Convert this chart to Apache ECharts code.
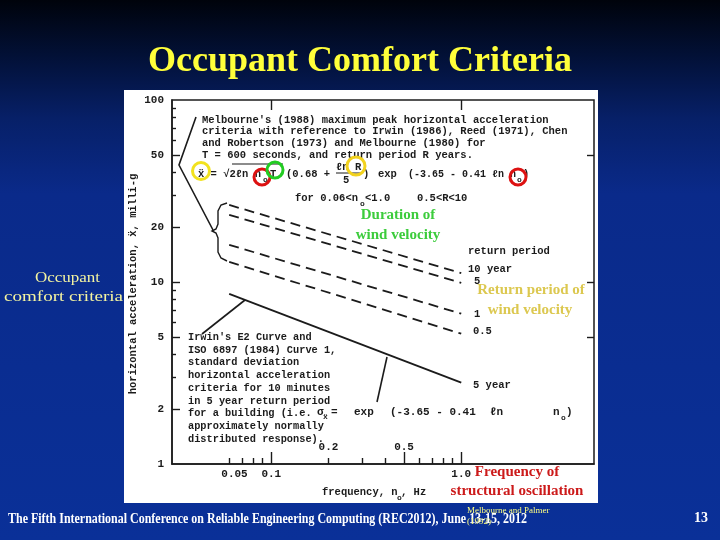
<!DOCTYPE html>
<html><head><meta charset="utf-8">
<script src="https://cdn.jsdelivr.net/npm/echarts@6/dist/echarts.min.js"></script>
<style>html,body{margin:0;padding:0;background:#0a2a8c}#c{width:720px;height:540px}</style>
</head><body><div id="c"></div>
<script>
// ---- data ----
const frequency = [0.06, 1.0];            // n0, Hz (domain 0.06 < n0 < 1.0)
const return10 = [26.5, 11.2];            // milli-g, R = 10 year
const return5 = [23.4, 9.9];              // R = 5
const return1 = [16.0, 6.7];              // R = 1
const return05 = [12.9, 5.2];             // R = 0.5
const irwinE2 = [8.6, 2.8];               // Irwin E2 / ISO 6897 curve 1
const yTickValues = [1, 2, 5, 10, 20, 50, 100];
const yTickLabels = ['1', '2', '5', '10', '20', '50', '100'];
const yMajorTicks = [2, 5, 10, 20, 50];
const yMinorTicks = [3, 4, 6, 7, 8, 9, 30, 40, 60, 70, 80, 90];
const xTickValues = [0.064, 0.1, 1];
const xTickLabels = ['0.05', '0.1', '1.0'];
const xInnerTickValues = [0.2, 0.5];
const xInnerTickLabels = ['0.2', '0.5'];
const xMajorTicks = [0.1, 0.5, 1];
const xMinorTicks = [0.06, 0.07, 0.08, 0.09, 0.2, 0.3, 0.4, 0.6, 0.7, 0.8, 0.9];

function pick(values, labels) {
  return function (v) {
    for (let i = 0; i < values.length; i++) {
      if (Math.abs(v - values[i]) / values[i] < 1e-3) return labels[i];
    }
    return '';
  };
}
function pairs(xs, ys) { return xs.map((x, i) => [x, ys[i]]); }

const mctx = document.createElement('canvas').getContext('2d');
function measure(text, font) { mctx.font = font; return mctx.measureText(text).width; }

const INK = '#1b1b1b';
const MONO = '"Liberation Mono", "DejaVu Sans Mono", monospace';
const SERIF = '"Liberation Serif", "DejaVu Serif", serif';

function T(text, x, y, font, fill, align, extra) {
  const st = Object.assign({
    text: text, x: 0, y: 0, font: font, fill: fill,
    align: align || 'left', textAlign: align || 'left',
    verticalAlign: 'middle', textVerticalAlign: 'middle'
  }, extra || {});
  return { type: 'text', x: x, y: y, z: 20, silent: true, style: st };
}
function FT(text, x, y, font, fill, width, align) {
  const w = measure(text, font);
  const el = T(text, x, y, font, fill, align || 'left');
  el.scaleX = width / w;
  return el;
}
function M(text, x, y, size, align) {
  return T(text, x, y, 'bold ' + (size || 10.5) + 'px ' + MONO, INK, align);
}
function ring(cx, cy, r, color) {
  return { type: 'circle', z: 25, silent: true, shape: { cx: cx, cy: cy, r: r },
    style: { fill: 'none', stroke: color, lineWidth: 3 } };
}
function pline(points, w) {
  return { type: 'polyline', z: 15, silent: true, shape: { points: points },
    style: { fill: 'none', stroke: INK, lineWidth: w || 1.6 } };
}

const bg = {
  type: 'rect', z: -20, silent: true, shape: { x: 0, y: 0, width: 720, height: 540 },
  style: { fill: new echarts.graphic.LinearGradient(0, 0, 0, 1, [
    { offset: 0, color: '#00030b' }, { offset: 0.1, color: '#021035' },
    { offset: 0.22, color: '#072068' }, { offset: 0.36, color: '#0a2a8a' },
    { offset: 1, color: '#0a3098' }]) }
};
const paper = { type: 'rect', z: -15, silent: true, shape: { x: 124, y: 90, width: 474, height: 413 }, style: { fill: '#ffffff' } };

const yName = T('horizontal acceleration, ẍ, milli-g', 133, 284, 'bold 10.5px ' + MONO, INK, 'center');
yName.rotation = Math.PI / 2;

const graphics = [bg, paper,
  // slide texts
  T('Occupant Comfort Criteria', 360, 62, 'bold 36px ' + SERIF, '#ffff3a', 'center'),
  FT('Occupant', 35, 278, '14px ' + SERIF, '#f4f4a0', 65),
  FT('comfort criteria', 4, 297, '14px ' + SERIF, '#f4f4a0', 119),
  FT('The Fifth International Conference on Reliable Engineering Computing (REC2012), June 13-15, 2012', 8, 519, 'bold 15px ' + SERIF, '#ffffff', 519),
  T('13', 701, 518, 'bold 14px ' + SERIF, '#ffffff', 'center'),
  T('Melbourne and Palmer', 467, 511, '9px ' + SERIF, '#ffff80'),
  T('(1992)', 467, 522, '9px ' + SERIF, '#ffff80'),
  // scanned figure texts
  yName,
  M("Melbourne's (1988) maximum peak horizontal acceleration", 202, 120),
  M('criteria with reference to Irwin (1986), Reed (1971), Chen', 202, 131.5),
  M('and Robertson (1973) and Melbourne (1980) for', 202, 143),
  M('T = 600 seconds, and return period R years.', 202, 155),
  M('ẍ = √2ℓn n', 198, 174),
  M('o', 263, 180, 8),
  M('T', 270, 174),
  M('(0.68 +', 286, 174),
  M('ℓn R', 336, 167),
  M('5', 343, 180),
  M(')', 363, 174),
  M('exp', 378, 174),
  M('(-3.65 - 0.41 ℓn n', 408, 174, 10),
  M('o', 517, 180, 8),
  M(')', 523, 174),
  { type: 'line', z: 15, silent: true, shape: { x1: 232, y1: 164, x2: 283, y2: 164 }, style: { stroke: INK, lineWidth: 1.2 } },
  { type: 'line', z: 15, silent: true, shape: { x1: 336, y1: 173, x2: 362, y2: 173 }, style: { stroke: INK, lineWidth: 1 } },
  M('for 0.06<n', 295, 198),
  M('o', 360, 204, 8),
  M('<1.0', 365, 198),
  M('0.5<R<10', 417, 198),
  M('return period', 468, 251),
  M('10 year', 468, 269),
  M('5', 474, 281),
  M('1', 474, 314),
  M('0.5', 473, 331),
  M('5 year', 473, 385),
  M("Irwin's E2 Curve and", 188, 337, 10.3),
  M('ISO 6897 (1984) Curve 1,', 188, 350, 10.3),
  M('standard deviation', 188, 362, 10.3),
  M('horizontal acceleration', 188, 375, 10.3),
  M('criteria for 10 minutes', 188, 388, 10.3),
  M('in 5 year return period', 188, 401, 10.3),
  M('for a building (i.e.', 188, 413, 10.3),
  M('approximately normally', 188, 426, 10.3),
  M('distributed response).', 188, 439, 10.3),
  M('σ', 317, 412, 11),
  M('ẍ', 323, 417, 8),
  M('=', 331, 412, 11),
  M('exp', 354, 412, 11),
  M('(-3.65 - 0.41', 390, 412, 11),
  M('ℓn', 490, 412, 11),
  M('n', 553, 412, 11),
  M('o', 561, 418, 8),
  M(')', 566, 412, 11),
  M('frequency, n', 322, 492),
  M('o', 397, 498, 8),
  M(', Hz', 401, 492),
  // leader lines and brace
  pline([[196, 117], [179, 165], [213, 230]]),
  pline([[227, 203], [221, 205], [218, 211], [218, 224], [216, 229], [212, 231], [216, 233], [218, 238], [218, 252], [221, 258], [227, 261]], 1.4),
  pline([[245, 300], [202, 334]]),
  pline([[387, 357], [377, 402]]),
  // coloured highlight texts
  T('Duration of', 398, 215, 'bold 15px ' + SERIF, '#3ccc3c', 'center', { textShadowColor: '#2a5a2a', textShadowOffsetX: 1, textShadowOffsetY: 1 }),
  T('wind velocity', 398, 235, 'bold 15px ' + SERIF, '#3ccc3c', 'center', { textShadowColor: '#2a5a2a', textShadowOffsetX: 1, textShadowOffsetY: 1 }),
  T('Return period of', 531, 290, 'bold 15px ' + SERIF, '#dcc850', 'center', { textShadowColor: '#8a7a30', textShadowOffsetX: 1, textShadowOffsetY: 1 }),
  T('wind velocity', 530, 310, 'bold 15px ' + SERIF, '#dcc850', 'center', { textShadowColor: '#8a7a30', textShadowOffsetX: 1, textShadowOffsetY: 1 }),
  T('Frequency of', 517, 472, 'bold 15px ' + SERIF, '#cc1a1a', 'center'),
  T('structural oscillation', 517, 491, 'bold 15px ' + SERIF, '#cc1a1a', 'center'),
  // highlight circles
  ring(201, 171, 8.5, '#f2e21e'),
  ring(262, 177, 8, '#dd1111'),
  ring(275, 170, 8, '#22cc22'),
  ring(356, 166, 9, '#f2d21e'),
  ring(518, 177, 8, '#dd1111')
];

const tickStyle = { color: INK, width: 1.4 };
const monoLabel = { color: INK, fontFamily: MONO, fontWeight: 'bold', fontSize: 11 };

const chart = echarts.init(document.getElementById('c'), null, { renderer: 'canvas' });
chart.setOption({
  animation: false,
  backgroundColor: 'transparent',
  grid: { left: 172, right: 126, top: 100, bottom: 76, show: true, borderColor: INK, borderWidth: 1.5, backgroundColor: 'transparent' },
  xAxis: [
    { type: 'log', min: 0.03, max: 5, position: 'bottom', z: 5,
      axisLine: { show: true, lineStyle: { color: INK, width: 1.5 } },
      axisTick: { show: true, inside: true, length: 12, customValues: xMajorTicks, lineStyle: tickStyle },
      axisLabel: Object.assign({ customValues: xTickValues, formatter: pick(xTickValues, xTickLabels), margin: 5 }, monoLabel),
      splitLine: { show: false }, minorTick: { show: false } },
    { type: 'log', min: 0.03, max: 5, position: 'bottom', z: 5,
      axisLine: { show: false },
      axisTick: { show: true, inside: true, length: 6, customValues: xMinorTicks, lineStyle: tickStyle },
      axisLabel: Object.assign({ inside: true, customValues: xInnerTickValues, formatter: pick(xInnerTickValues, xInnerTickLabels), margin: 11 }, monoLabel),
      splitLine: { show: false } },
    { type: 'log', min: 0.03, max: 5, position: 'top', z: 5,
      axisLine: { show: false },
      axisTick: { show: true, inside: true, length: 10, customValues: [0.1, 1], lineStyle: tickStyle },
      axisLabel: { show: false }, splitLine: { show: false } }
  ],
  yAxis: [
    { type: 'log', min: 1, max: 100, position: 'left', z: 5,
      axisLine: { show: true, lineStyle: { color: INK, width: 1.5 } },
      axisTick: { show: true, inside: true, length: 8, customValues: yMajorTicks, lineStyle: tickStyle },
      axisLabel: Object.assign({ customValues: yTickValues, formatter: pick(yTickValues, yTickLabels), margin: 8 }, monoLabel),
      splitLine: { show: false }, minorTick: { show: false } },
    { type: 'log', min: 1, max: 100, position: 'left', z: 5,
      axisLine: { show: false },
      axisTick: { show: true, inside: true, length: 4, customValues: yMinorTicks, lineStyle: tickStyle },
      axisLabel: { show: false }, splitLine: { show: false } },
    { type: 'log', min: 1, max: 100, position: 'right', z: 5,
      axisLine: { show: false },
      axisTick: { show: true, inside: true, length: 7, customValues: [5, 10, 50], lineStyle: tickStyle },
      axisLabel: { show: false }, splitLine: { show: false } }
  ],
  series: [
    { name: '10 year', type: 'line', data: pairs(frequency, return10) },
    { name: '5', type: 'line', data: pairs(frequency, return5) },
    { name: '1', type: 'line', data: pairs(frequency, return1) },
    { name: '0.5', type: 'line', data: pairs(frequency, return05) }
  ].map(s => Object.assign(s, { symbol: 'none', silent: true, z: 4,
      lineStyle: { color: INK, width: 1.8, type: [10, 6] } })).concat([
    { name: 'Irwin E2', type: 'line', data: pairs(frequency, irwinE2), symbol: 'none', silent: true, z: 4,
      lineStyle: { color: INK, width: 1.8, type: 'solid' } }
  ]),
  graphic: { elements: graphics }
});
</script></body></html>
